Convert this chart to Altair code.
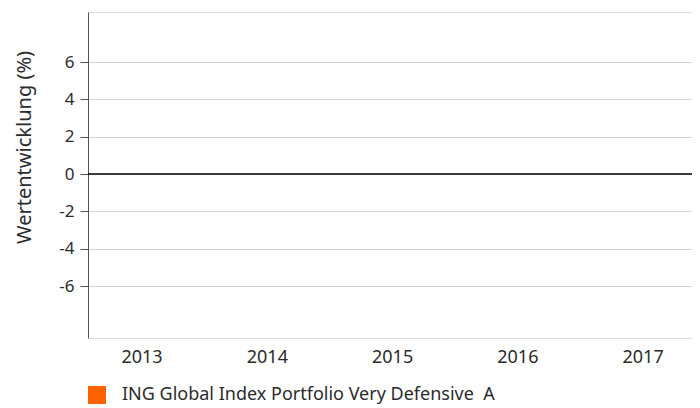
import altair as alt
import pandas as pd

years = ["2013", "2014", "2015", "2016", "2017"]
values = [0, 0, 0, 0, 0]
series = "ING Global Index Portfolio Very Defensive \u00a0A"
y_ticks = [-6, -4, -2, 0, 2, 4, 6]

df = pd.DataFrame({"Jahr": years, "Wert": values, "Serie": [series] * len(years)})

FONT = "Noto Sans"
TXT = "#2b2b2b"

bars = alt.Chart(df).mark_bar().encode(
    x=alt.X(
        "Jahr:N",
        sort=years,
        scale=alt.Scale(paddingInner=0.3, paddingOuter=0.061, align=0.67),
        axis=alt.Axis(
            title=None, labelAngle=0, ticks=False, domain=False, grid=False,
            labelFontSize=18, labelColor=TXT, labelFont=FONT, labelPadding=10,
        ),
    ),
    y=alt.Y(
        "Wert:Q",
        scale=alt.Scale(domain=[-8.785, 8.68], nice=False, zero=False),
        axis=alt.Axis(
            title="Wertentwicklung (%)", values=y_ticks,
            labelExpr="replace(format(datum.value, 'd'), '−', '-')",
            grid=True, gridColor="#d4d4d4", gridWidth=1,
            domain=True, domainColor="#555555", domainWidth=1,
            ticks=True, tickSize=8, tickColor="#555555",
            labelFontSize=17, labelColor=TXT, labelFont=FONT, labelPadding=6,
            titleFontSize=20, titleFontWeight="normal", titleColor=TXT, titleFont=FONT,
            titleX=-64, titleY=135, titleAngle=270, titleAlign="center", titleBaseline="middle",
        ),
    ),
    color=alt.Color(
        "Serie:N",
        scale=alt.Scale(domain=[series], range=["#FF6200"]),
        legend=alt.Legend(
            title=None, orient="none", legendX=0, legendY=374,
            symbolType="square", symbolSize=324, symbolStrokeWidth=0,
            labelFontSize=18, labelColor=TXT, labelFont=FONT, labelOffset=16,
            labelLimit=0,
        ),
    ),
)

zero = alt.Chart(pd.DataFrame({"y": [0]})).mark_rule(color="#000000", strokeWidth=1.5).encode(
    y=alt.Y("y:Q")
)

chart = alt.layer(bars, zero).properties(
    width=604, height=326,
    autosize=alt.AutoSizeParams(type="none"),
    padding={"left": 80, "top": 4, "right": 0, "bottom": 67},
).configure_view(stroke=None).configure(background="white")

chart.save("out.html", embed_options={"renderer": "svg", "actions": False})
